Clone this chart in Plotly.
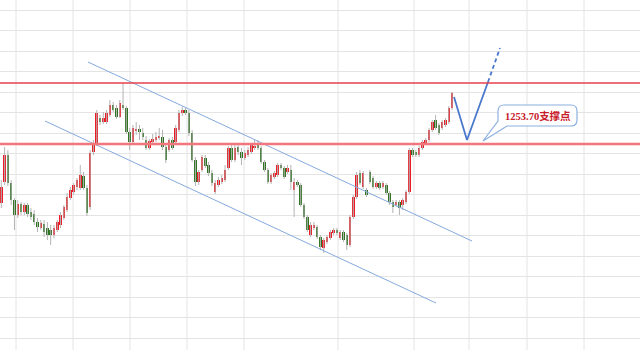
import plotly.graph_objects as go

# ---- data (prices) ----
opens = [1247.8,1249.9,1252.6,1249.8,1248.1,1246.6,1247.7,1246.9,1247.6,1246.9,
         1246.7,1245.9,1245.3,1245.7,1245.3,1245.1,1244.6,1245.1,1245.6,1246.3,
         1247.1,1248.3,1248.9,1249.4,1249.3,1250.5,1249.3,1247.4,1252.9,1253.8,
         1256.3,1255.9,1255.9,1256.6,1257.6,1257.3,1256.4,1257.6,1257.3,1254.9,
         1253.9,1255.0,1255.2,1254.8,1254.1,1253.3,1253.9,1254.1,1254.3,1254.4,
         1253.4,1253.1,1254.1,1253.9,1255.1,1256.8,1257.1,1256.8,1254.8,1252.1,
         1249.9,1251.1,1252.3,1251.6,1250.8,1248.9,1249.6,1249.9,1250.1,1251.3,
         1253.3,1252.1,1253.4,1252.9,1252.3,1252.6,1252.9,1253.3,1253.8,1253.3,
         1251.9,1251.1,1249.9,1250.4,1250.6,1251.6,1251.3,1250.9,1251.1,1249.1,
         1249.9,1249.6,1247.6,1246.4,1244.6,1245.3,1245.4,1244.4,1243.3,1243.9,
         1244.3,1244.8,1245.1,1244.3,1244.9,1244.6,1243.6,1246.4,1248.4,1250.8,
         1249.4,1249.1,1250.9,1250.3,1249.4,1249.8,1249.4,1249.6,1248.8,1247.9,
         1247.6,1247.9,1247.6,1247.9,1248.9,1253.1,1252.9,1252.6,1253.3,1253.8,
         1254.1,1255.1,1256.1,1255.6,1255.3,1255.6,1255.9,1257.3]
closes = [1249.4,1252.6,1249.8,1248.1,1246.6,1247.7,1246.9,1247.6,1246.7,1246.4,
          1245.9,1245.4,1245.8,1244.9,1244.6,1244.6,1245.3,1245.9,1246.6,1247.4,
          1248.4,1249.1,1249.6,1250.1,1250.6,1249.3,1246.8,1252.8,1253.8,1256.8,
          1255.9,1256.3,1256.8,1257.6,1257.1,1256.4,1257.8,1257.3,1254.9,1253.9,
          1255.3,1255.2,1254.9,1254.4,1253.3,1254.0,1254.2,1254.4,1254.5,1253.4,
          1252.1,1254.1,1253.3,1255.3,1256.8,1257.1,1256.8,1254.8,1252.1,1249.9,
          1250.9,1252.4,1251.5,1250.8,1249.8,1249.8,1250.1,1250.3,1251.1,1253.3,
          1252.1,1253.3,1252.9,1252.3,1252.8,1253.1,1253.6,1253.5,1253.3,1251.9,
          1251.1,1249.9,1250.6,1250.8,1251.6,1251.3,1250.4,1251.3,1249.9,1249.9,
          1249.6,1247.6,1246.4,1245.1,1245.6,1245.6,1244.4,1243.4,1244.1,1244.4,
          1244.9,1245.1,1244.8,1244.9,1244.1,1243.6,1246.4,1248.4,1250.6,1249.8,
          1250.8,1248.6,1249.9,1249.4,1249.8,1249.3,1249.8,1248.8,1247.9,1247.4,
          1247.9,1247.3,1248.1,1248.9,1253.1,1252.6,1252.6,1253.3,1253.9,1254.1,
          1255.1,1255.9,1255.3,1254.8,1255.9,1256.1,1257.3,1258.8]
highs = [1250.1,1253.4,1253.1,1250.1,1248.3,1248.1,1247.9,1247.8,1247.8,1247.3,
         1247.1,1246.3,1246.1,1246.1,1245.9,1245.6,1245.6,1246.1,1246.9,1247.6,
         1248.8,1249.4,1249.8,1250.3,1251.6,1250.9,1249.6,1253.1,1254.1,1257.1,
         1256.6,1256.9,1257.1,1258.1,1257.9,1257.6,1258.1,1259.8,1257.5,1255.3,
         1255.6,1255.9,1255.6,1255.3,1254.5,1254.2,1254.7,1254.9,1255.3,1255.1,
         1253.6,1254.3,1254.4,1255.6,1257.1,1257.4,1257.4,1257.1,1255.1,1252.4,
         1251.1,1252.6,1252.6,1251.9,1251.1,1250.1,1250.4,1250.6,1251.6,1253.5,
         1253.6,1253.6,1253.8,1253.3,1253.1,1253.4,1253.8,1254.1,1254.1,1253.5,
         1252.1,1251.3,1250.8,1251.0,1251.8,1251.8,1251.5,1251.6,1251.6,1250.3,
         1250.1,1249.8,1247.8,1246.6,1245.9,1245.9,1245.6,1244.6,1244.3,1244.6,
         1245.1,1245.3,1245.3,1245.1,1245.1,1244.8,1246.6,1248.6,1250.9,1251.1,
         1251.0,1249.3,1251.1,1250.5,1250.0,1250.0,1250.0,1249.8,1249.0,1248.1,
         1248.1,1248.1,1248.3,1249.1,1253.3,1253.3,1253.1,1253.5,1254.1,1254.3,
         1255.3,1256.1,1256.6,1255.8,1256.1,1256.3,1257.5,1258.9]
lows = [1247.3,1249.6,1249.5,1247.6,1245.1,1246.3,1246.6,1246.6,1246.4,1246.1,
        1245.6,1244.9,1245.1,1244.4,1244.1,1243.6,1244.3,1244.9,1245.3,1246.1,
        1246.9,1248.1,1248.6,1249.1,1249.1,1249.1,1246.5,1247.1,1252.6,1253.5,
        1255.6,1255.7,1255.7,1256.4,1256.9,1256.2,1256.3,1257.1,1254.7,1253.1,
        1253.6,1254.6,1254.1,1254.1,1253.1,1253.1,1253.7,1253.9,1254.1,1253.1,
        1251.8,1252.9,1253.1,1253.6,1254.9,1256.5,1256.6,1254.5,1251.9,1249.5,
        1249.6,1250.9,1251.3,1250.5,1249.5,1248.7,1249.4,1249.7,1249.9,1251.1,
        1251.9,1251.9,1252.6,1251.6,1252.1,1252.4,1252.7,1253.1,1253.1,1251.7,
        1250.9,1249.7,1249.7,1250.2,1250.4,1251.1,1250.2,1250.7,1249.1,1246.4,
        1249.4,1247.4,1246.2,1244.9,1244.4,1245.1,1244.2,1243.1,1242.8,1243.7,
        1244.1,1244.6,1244.6,1244.1,1243.9,1243.1,1243.4,1246.2,1248.2,1249.6,
        1249.2,1248.4,1249.7,1249.2,1249.2,1249.1,1249.2,1248.6,1247.6,1246.8,
        1247.4,1246.6,1247.1,1247.7,1248.7,1252.4,1252.4,1252.4,1253.1,1253.6,
        1253.9,1254.9,1255.1,1254.6,1255.1,1255.4,1255.7,1257.1]

resistance_level = 1259.8
support_level = 1253.70
support_label = "1253.70支撑点"

# trend lines: (bar index, price)
channel_upper = [(26.35, 1261.9), (143.06, 1244.0)]
channel_lower = [(13.28, 1256.0), (132.12, 1237.8)]
projection_solid = [(137.6, 1258.4), (141.54, 1254.1), (147.93, 1259.9)]
projection_dashed = [(147.93, 1259.9), (151.58, 1263.3)]

# ---- styling / layout constants ----
W, H = 640, 350
PX_PER_BAR = 3.29
RED = "#ec1c24"
GREEN = "#2f7420"
idx = list(range(len(opens)))

body_base = [min(o, c) for o, c in zip(opens, closes)]
body_len = [max(abs(c - o), 0.15) for o, c in zip(opens, closes)]
body_col = [RED if c >= o else GREEN for o, c in zip(opens, closes)]

wx, wy = [], []
for i, h, l in zip(idx, highs, lows):
    wx += [i, i, None]
    wy += [l, h, None]

fig = go.Figure()
fig.add_trace(go.Scatter(x=wx, y=wy, mode="lines",
                         line=dict(color="#b4b4b4", width=1), hoverinfo="skip"))
fig.add_trace(go.Bar(x=idx, y=body_len, base=body_base, width=0.76,
                     marker=dict(color=body_col, line=dict(width=0))))

for pts in (channel_upper, channel_lower):
    fig.add_trace(go.Scatter(x=[p[0] for p in pts], y=[p[1] for p in pts], mode="lines",
                             line=dict(color="#85a9de", width=1), hoverinfo="skip"))
fig.add_trace(go.Scatter(x=[p[0] for p in projection_solid], y=[p[1] for p in projection_solid],
                         mode="lines", line=dict(color="#4a78cc", width=1.8), hoverinfo="skip"))
fig.add_trace(go.Scatter(x=[p[0] for p in projection_dashed], y=[p[1] for p in projection_dashed],
                         mode="lines", line=dict(color="#4a78cc", width=1.8, dash="4px,3px"),
                         hoverinfo="skip"))

shapes = []
# vertical sheet grid lines (pixel columns)
for gx in [16, 73, 130, 187, 244, 338, 414, 469, 527, 584]:
    shapes.append(dict(type="line", xref="paper", yref="paper", x0=gx / W, x1=gx / W,
                       y0=0, y1=1, line=dict(color="#e4e4e4", width=1), layer="below"))
# horizontal levels
shapes.append(dict(type="line", xref="paper", yref="y", x0=0, x1=1,
                   y0=resistance_level, y1=resistance_level,
                   line=dict(color="#e6404c", width=1.3), layer="above"))
shapes.append(dict(type="line", xref="paper", yref="y", x0=0, x1=1,
                   y0=support_level, y1=support_level,
                   line=dict(color="#f2767c", width=2.5), layer="above"))


def P(x, y):
    return f"{x / W:.5f},{1 - y / H:.5f}"


L, R, T, B, r = 498, 577, 105, 126, 6
path = (f"M{P(L + r, T)} L{P(R - r, T)} Q{P(R, T)} {P(R, T + r)} "
        f"L{P(R, B - r)} Q{P(R, B)} {P(R - r, B)} L{P(507, B)} L{P(483, 141)} "
        f"L{P(L, 121)} L{P(L, T + r)} Q{P(L, T)} {P(L + r, T)} Z")
shapes.append(dict(type="path", xref="paper", yref="paper", path=path,
                   fillcolor="white", line=dict(color="#8cb0e0", width=1.2), layer="above"))

fig.add_annotation(x=537.5 / W, y=1 - 115.5 / H, xref="paper", yref="paper",
                   text=f"<b>{support_label}</b>", showarrow=False,
                   xanchor="center", yanchor="middle",
                   font=dict(family="Liberation Serif, Noto Sans CJK SC", size=10.5, color="#c8202a"))

fig.update_layout(
    width=W, height=H, margin=dict(l=0, r=0, t=0, b=0),
    paper_bgcolor="white", plot_bgcolor="white", showlegend=False,
    shapes=shapes, bargap=0,
    xaxis=dict(range=[-0.4, W / PX_PER_BAR - 0.4], showgrid=False, zeroline=False,
               showticklabels=False, ticks="", fixedrange=True),
    yaxis=dict(range=[1233.1, 1268.1], showgrid=True, gridcolor="#e4e4e4", gridwidth=1,
               tick0=1267.1, dtick=2.05, zeroline=False, showticklabels=False, ticks="",
               fixedrange=True),
)

fig.write_html("out.html", config={"displayModeBar": False})
